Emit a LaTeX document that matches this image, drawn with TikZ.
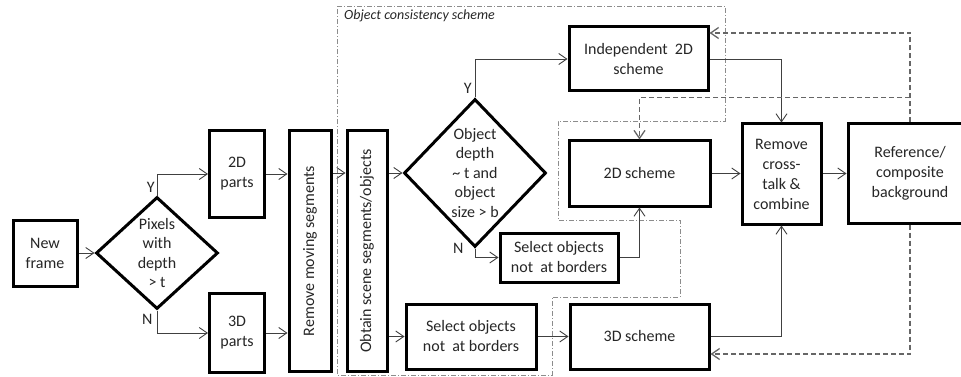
\documentclass[tikz,border=0pt]{standalone}
\usepackage{fontspec}
\setmainfont{Carlito}
\usepackage{graphicx}
\usepackage{tikz}
\usetikzlibrary{arrows.meta,shapes.geometric,positioning,calc}
\tikzset{
  ocbox/.style={
    rectangle, draw=black, fill=white, line width=3pt,
    align=center, inner sep=2pt, text=black!85,
    font=\fontsize{16}{20}\selectfont
  },
  ocdecision/.style={
    diamond, draw=black, fill=white, line width=3pt,
    align=center, inner sep=0pt, text=black!85,
    font=\fontsize{16}{19.5}\selectfont
  },
  ocedge/.style={-{Straight Barb[length=8pt,width=11pt]},line width=0.9pt,draw=black!75},
  ocfeedback/.style={-{Straight Barb[length=8pt,width=11pt]},line width=1.3pt,draw=black!60,
    dash pattern=on 5pt off 3pt},
  oclabel/.style={font=\fontsize{16}{20}\selectfont,text=black!85,inner sep=1pt},
  ocregion/.style={line width=0.9pt,draw=black!45,dash pattern=on 5pt off 2pt on 1pt off 2pt},
  octitle/.style={font=\fontsize{14}{16}\selectfont\itshape,text=black!85,inner sep=0pt}
}

\begin{document}
\begin{tikzpicture}[x=1pt,y=-1pt]
  \useasboundingbox (0,0) rectangle (961,377);
  \clip (0,0) rectangle (961,377);

  % Object consistency region
  \draw[ocregion] (337,6) -- (725,6) -- (725,121) -- (558,121) -- (558,220)
    -- (680,220) -- (680,297) -- (552,297) -- (552,375) -- (337,375) -- cycle;
  \node[octitle,anchor=west] (octitle) at (344,16) {Object consistency scheme};

  % Depth split
  \node[ocbox,minimum width=64pt,minimum height=66pt] (frame) at (45,253) {New\\frame};
  \node[ocdecision,minimum width=122pt,minimum height=112pt] (pix) at (157,253)
    {Pixels\\with\\depth\\> t};
  \node[ocbox,minimum width=55pt,minimum height=87pt] (p2d) at (237,174) {2D\\parts};
  \node[ocbox,minimum width=55pt,minimum height=79pt] (p3d) at (237,333) {3D\\parts};
  \node[ocbox,minimum width=42pt,minimum height=240pt] (rmove) at (310,251)
    {\rotatebox{90}{Remove moving segments}};
  \node[ocbox,minimum width=40pt,minimum height=240pt] (obtain) at (367,251)
    {\rotatebox{90}{Obtain scene segments/objects}};

  \draw[ocedge] (frame.east) -- (pix.west);
  \draw[ocedge] (pix.north) |- node[oclabel,pos=0,above left=2pt and 1pt] {Y} (p2d.west);
  \draw[ocedge] (pix.south) |- node[oclabel,pos=0,below left=2pt and 3pt] {N} (p3d.west);
  \draw[ocedge] (p2d.east) -- (p2d.east -| rmove.west);
  \draw[ocedge] (p3d.east) -- (p3d.east -| rmove.west);

  % Object consistency scheme
  \node[ocdecision,minimum width=142pt,minimum height=148pt] (objdec) at (475,173)
    {Object\\depth\\\textasciitilde{} t and\\object\\size > b};
  \node[ocbox,minimum width=139pt,minimum height=64pt] (indep) at (638.5,59)
    {Independent\ \ 2D\\scheme};
  \node[ocbox,minimum width=141pt,minimum height=65pt] (s2d) at (639.5,173.5) {2D scheme};
  \node[ocbox,minimum width=118pt,minimum height=49pt] (seltop) at (559,257.5)
    {Select objects\\not\ \ at borders};
  \node[ocbox,minimum width=130pt,minimum height=65pt] (selbot) at (471,336.5)
    {Select objects\\not\ \ at borders};
  \node[ocbox,minimum width=139pt,minimum height=65pt] (s3d) at (639.5,336.5) {3D scheme};

  \draw[ocedge] (rmove.east |- objdec.west) -- (obtain.west |- objdec.west);
  \draw[ocedge] (obtain.east |- objdec.west) -- (objdec.west);
  \draw[ocedge] (objdec.north) |- node[oclabel,pos=0,above left=3pt and 2pt] {Y} (indep.west);
  \draw[ocedge] (objdec.south) |- node[oclabel,pos=0,left=10pt] {N} (seltop.west);
  \draw[ocedge] (seltop.east) -| (s2d.south);
  \draw[ocedge] (obtain.east |- selbot.west) -- (selbot.west);
  \draw[ocedge] (selbot.east) -- (s3d.west);

  % Combination and background
  \node[ocbox,minimum width=79pt,minimum height=100pt] (combine) at (781.5,174)
    {Remove\\cross-\\talk \&\\combine};
  \node[ocbox,minimum width=124pt,minimum height=99pt] (refbg) at (910,173.5)
    {Reference/\\composite\\background};

  \draw[ocedge] (s2d.east) -- (s2d.east -| combine.west);
  \draw[ocedge] (indep.east) -| (combine.north);
  \draw[ocedge] (s3d.east) -| (combine.south);
  \draw[ocedge] (combine.east |- refbg.west) -- (refbg.west);

  % Feedback
  \draw[ocfeedback] (refbg.north) |- ([yshift=26pt]indep.east);
  \draw[ocfeedback] ([yshift=25pt]refbg.north) -| (s2d.north);
  \draw[ocfeedback] (refbg.south) |- ([yshift=-17.5pt]s3d.east);
\end{tikzpicture}
\end{document}
